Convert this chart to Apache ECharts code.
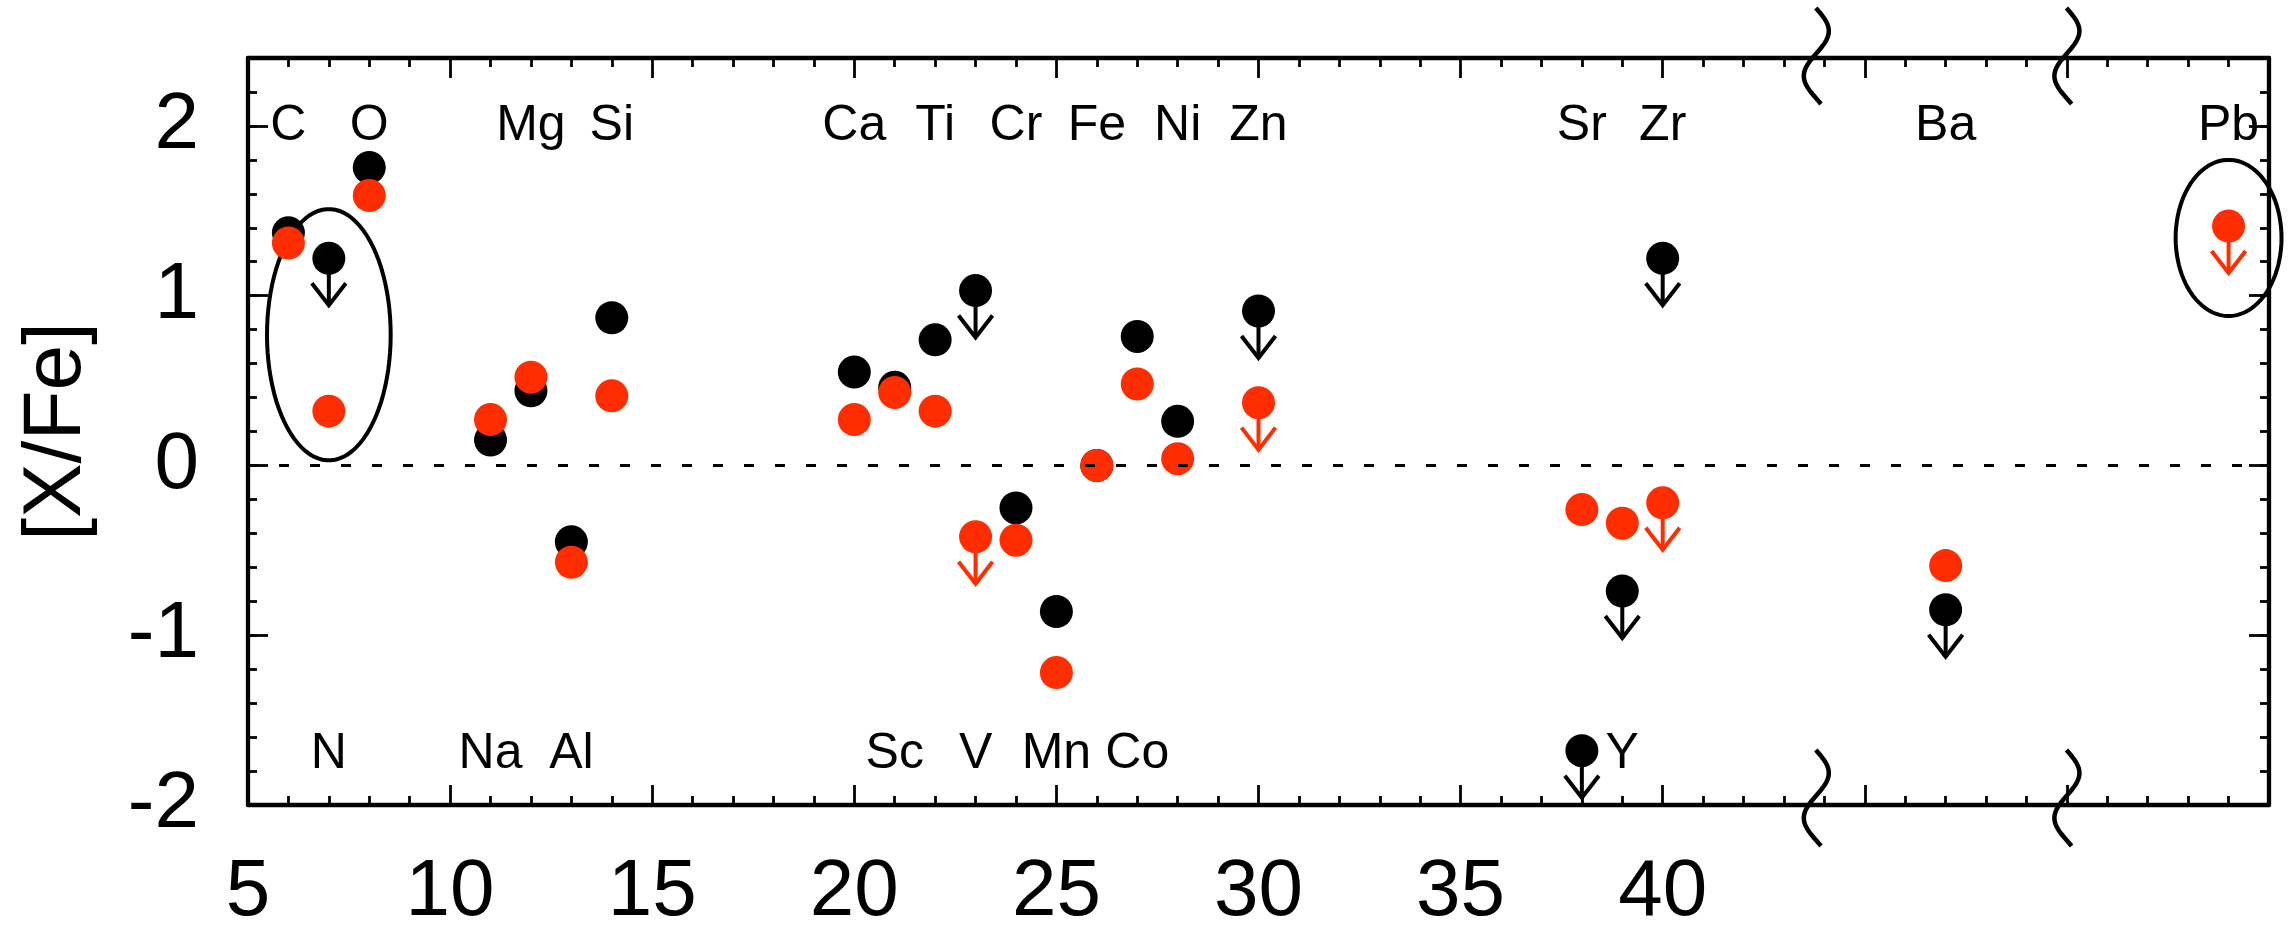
<!DOCTYPE html>
<html>
<head>
<meta charset="utf-8">
<script src="https://cdn.jsdelivr.net/npm/echarts@6/dist/echarts.min.js"></script>
<style>
  html, body { margin: 0; padding: 0; background: #fff; }
  #chart { width: 2288px; height: 933px; }
</style>
</head>
<body>
<div id="chart"></div>
<script>
// black star: detections and upper limits (x = atomic number; Ba, Pb on broken axis)
var blackX = [6, 8, 11, 12, 13, 14, 20, 21, 22, 24, 25, 26, 27, 28];
var blackY = [1.37, 1.755, 0.15, 0.44, -0.45, 0.87, 0.55, 0.46, 0.74, -0.25, -0.86, 0.0, 0.76, 0.26];
var blackLimX = [7, 23, 30, 38, 39, 40, 47];
var blackLimY = [1.22, 1.03, 0.91, -1.68, -0.74, 1.22, -0.85];

// red star
var redX = [6, 7, 8, 11, 12, 13, 14, 20, 21, 22, 24, 25, 26, 27, 28, 38, 39, 47];
var redY = [1.31, 0.32, 1.59, 0.27, 0.52, -0.57, 0.41, 0.27, 0.43, 0.32, -0.44, -1.22, 0.0, 0.48, 0.04, -0.26, -0.34, -0.59];
var redLimX = [23, 30, 40, 54];
var redLimY = [-0.42, 0.37, -0.22, 1.41];

// element names
var topNames = ["C", "O", "Mg", "Si", "Ca", "Ti", "Cr", "Fe", "Ni", "Zn", "Sr", "Zr", "Ba", "Pb"];
var topNamesX = [6, 8, 12, 14, 20, 22, 24, 26, 28, 30, 38, 40, 47, 54];
var bottomNames = ["N", "Na", "Al", "Sc", "V", "Mn", "Co", "Y"];
var bottomNamesX = [7, 11, 13, 21, 23, 25, 27, 39];

// circled groups: center x, center y, half width, half height
var ringX = [7, 54];
var ringY = [0.77, 1.34];
var ringW = [1.53, 1.31];
var ringH = [0.74, 0.46];

// axis break positions
var breakX = [43.8, 50];

var xTicks = [5, 10, 15, 20, 25, 30, 35, 40];

var RED = "#ff2d00";
var FONT = '"Liberation Sans", Arial, sans-serif';
var Y_MIN = -2, Y_MAX = 2.4;

function pairs(xs, ys) {
  var out = [];
  for (var i = 0; i < xs.length; i++) out.push([xs[i], ys[i]]);
  return out;
}

function limitItem(color) {
  return function (params, api) {
    var p = api.coord([api.value(0), api.value(1)]);
    var tip = p[1] + 47;
    return {
      type: "group",
      children: [
        { type: "line", shape: { x1: p[0], y1: p[1], x2: p[0], y2: tip - 1 }, style: { stroke: color, lineWidth: 4 } },
        { type: "polyline", shape: { points: [[p[0] - 17, tip - 22], [p[0], tip], [p[0] + 17, tip - 22]] },
          style: { stroke: color, lineWidth: 4, fill: null } },
        { type: "circle", shape: { cx: p[0], cy: p[1], r: 16.5 }, style: { fill: color } }
      ]
    };
  };
}

function labelItem(rowY, names) {
  return function (params, api) {
    var p = api.coord([api.value(0), rowY]);
    return {
      type: "text",
      style: { text: names[params.dataIndex], x: p[0], y: p[1], align: "center", verticalAlign: "middle",
        font: "50px " + FONT, fill: "#000" }
    };
  };
}

var chart = echarts.init(document.getElementById("chart"));

function xAxisDef(pos, labels) {
  return {
    type: "value", position: pos, min: 5, max: 55, interval: 5,
    axisLine: { onZero: false, lineStyle: { color: "#000", width: 4.3 } },
    axisTick: { inside: true, length: 20, lineStyle: { color: "#000", width: 2.8 } },
    minorTick: { show: true, splitNumber: 5, length: 9, lineStyle: { color: "#000", width: 2.8 } },
    splitLine: { show: false },
    axisLabel: {
      show: labels, margin: 48, fontSize: 80, fontFamily: FONT, color: "#000",
      formatter: function (v) { return xTicks.indexOf(v) >= 0 ? String(v) : ""; }
    }
  };
}

function yAxisDef(pos, step, len, main) {
  return {
    type: "value", position: pos, min: Y_MIN, max: Y_MAX, interval: step,
    axisLine: { show: main, onZero: false, lineStyle: { color: "#000", width: 4.3 } },
    axisTick: { inside: true, length: len, lineStyle: { color: "#000", width: 2.8 } },
    splitLine: { show: false },
    axisLabel: { show: false }
  };
}

var yLeft = yAxisDef("left", 1, 20, true);
yLeft.axisLabel = {
  show: true, margin: 49, fontSize: 80, fontFamily: FONT, color: "#000",
  formatter: function (v) { return Number.isInteger(v) ? String(v) : ""; }
};
yLeft.name = "[X/Fe]";
yLeft.nameLocation = "middle";
yLeft.nameGap = 150;
yLeft.nameTextStyle = { fontSize: 82, fontFamily: FONT, color: "#000" };

var option = {
  animation: false,
  backgroundColor: "#fff",
  grid: { left: 248, right: 19, top: 58, bottom: 120 },
  xAxis: [xAxisDef("bottom", true), xAxisDef("top", false)],
  yAxis: [yLeft, yAxisDef("left", 0.2, 9, false), yAxisDef("right", 1, 20, true), yAxisDef("right", 0.2, 9, false)],
  series: [
    {
      type: "scatter", symbol: "circle", symbolSize: 33,
      itemStyle: { color: "#000", opacity: 1 },
      data: pairs(blackX, blackY),
      markLine: {
        silent: true, symbol: "none", label: { show: false },
        lineStyle: { color: "#000", width: 3, type: [10, 21] },
        data: [{ yAxis: 0 }]
      }
    },
    { type: "custom", renderItem: limitItem("#000"), data: pairs(blackLimX, blackLimY) },
    { type: "scatter", symbol: "circle", symbolSize: 33, itemStyle: { color: RED, opacity: 1 }, data: pairs(redX, redY) },
    { type: "custom", renderItem: limitItem(RED), data: pairs(redLimX, redLimY) },
    {
      type: "custom",
      renderItem: function (params, api) {
        var c = api.coord([api.value(0), api.value(1)]);
        var r = api.size([api.value(2), api.value(3)]);
        var pts = [];
        for (var i = 0; i <= 90; i++) {
          var t = i / 90 * 2 * Math.PI;
          pts.push([c[0] + r[0] * Math.cos(t), c[1] + r[1] * Math.sin(t)]);
        }
        return { type: "polygon", shape: { points: pts }, style: { stroke: "#000", lineWidth: 4, fill: null } };
      },
      data: ringX.map(function (x, i) { return [x, ringY[i], ringW[i], ringH[i]]; })
    },
    {
      type: "custom",
      renderItem: function (params, api) {
        var top = api.coord([api.value(0), Y_MAX]);
        var bot = api.coord([api.value(0), Y_MIN]);
        function squiggle(p, off) {
          var pts = [];
          for (var s = -50; s <= 46; s += 2) {
            pts.push([p[0] + 12.5 * Math.cos(Math.PI * (s + 27) / 45), p[1] + s + off]);
          }
          return pts;
        }
        return {
          type: "group",
          children: [
            { type: "polyline", shape: { points: squiggle(top, 0) }, style: { stroke: "#000", lineWidth: 4.5, fill: null } },
            { type: "polyline", shape: { points: squiggle(bot, -5) }, style: { stroke: "#000", lineWidth: 4.5, fill: null } }
          ]
        };
      },
      data: breakX.map(function (x) { return [x]; })
    },
    {
      type: "custom", renderItem: labelItem(2.0, topNames),
      data: topNamesX.map(function (x) { return [x]; })
    },
    {
      type: "custom", renderItem: labelItem(-1.7, bottomNames),
      data: bottomNamesX.map(function (x) { return [x]; })
    }
  ]
};

chart.setOption(option);
</script>
</body>
</html>
